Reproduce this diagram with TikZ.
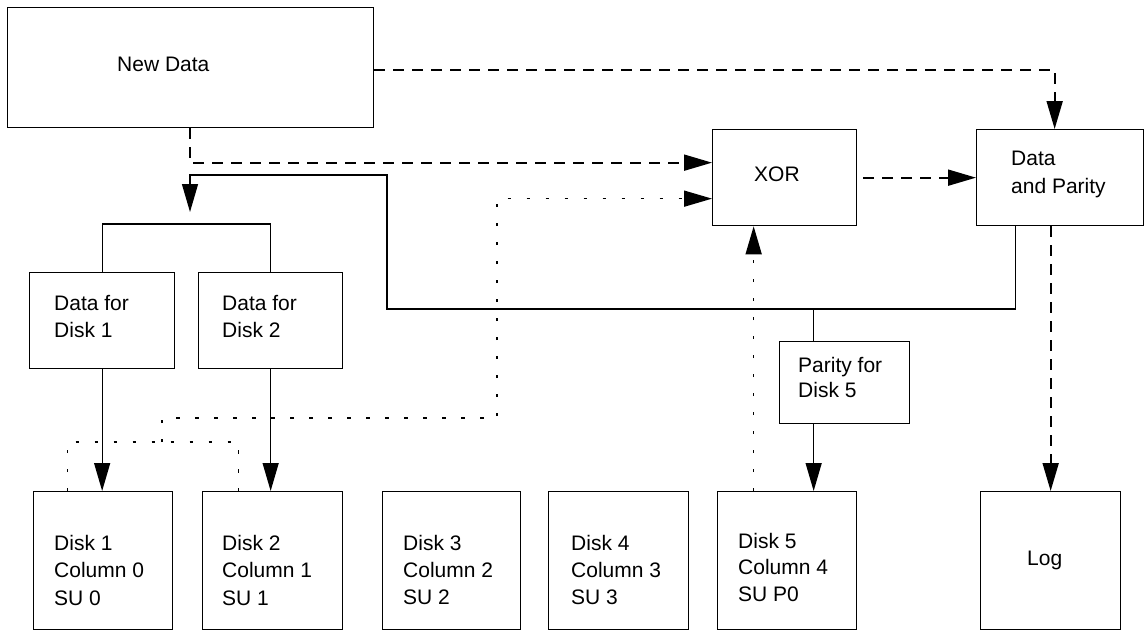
\documentclass[tikz,border=0pt]{standalone}
\usepackage{fontspec}
\setmainfont{Liberation Sans}
\usetikzlibrary{arrows.meta}
\newcommand{\txtlines}[2]{\vtop{\baselineskip=#1\lineskiplimit=-20pt\halign{##\hfil\cr #2\crcr}}}
\begin{document}
\begin{tikzpicture}[x=1pt,y=-1pt,
  box/.style={draw,line width=1.3pt,inner sep=0pt,anchor=north west},
  txt/.style={inner sep=0pt,anchor=base west,font=\fontsize{21pt}{27pt}\selectfont},
  ln/.style={line width=1.3pt},
  dsh/.style={line width=1.9pt,dash pattern=on 11pt off 8pt},
  dot/.style={line width=1.6pt,dash pattern=on 3.5pt off 15.5pt},
  tipa/.style={-{Triangle[length=28pt,width=16pt]}}]
\useasboundingbox (0,0) rectangle (1144,630);
% boxes
\node[box,minimum width=366pt,minimum height=120pt] (nd) at (7,7) {};
\node[box,minimum width=144pt,minimum height=96pt] (xor) at (712,129) {};
\node[box,minimum width=167pt,minimum height=96pt] (dp) at (976,129) {};
\node[box,minimum width=145pt,minimum height=96pt] (dfd1) at (29,272) {};
\node[box,minimum width=144pt,minimum height=96pt] (dfd2) at (198,272) {};
\node[box,minimum width=130pt,minimum height=82pt] (par) at (779,341) {};
\node[box,minimum width=139pt,minimum height=138pt] (d1) at (33,491) {};
\node[box,minimum width=140pt,minimum height=138pt] (d2) at (202,491) {};
\node[box,minimum width=138pt,minimum height=138pt] (d3) at (382,491) {};
\node[box,minimum width=140pt,minimum height=138pt] (d4) at (548,491) {};
\node[box,minimum width=139pt,minimum height=138pt] (d5) at (717,491) {};
\node[box,minimum width=140pt,minimum height=138pt] (log) at (980,491) {};
% texts
\node[txt] (ndt) at (117,71) {New Data};
\node[txt] (xort) at (754,181) {XOR};
\node[txt] (dpt) at (1011,165) {\txtlines{28pt}{Data\cr and Parity}};
\node[txt] (dfd1t) at (54,310) {\txtlines{27pt}{Data for\cr Disk 1}};
\node[txt] (dfd2t) at (222,310) {\txtlines{27pt}{Data for\cr Disk 2}};
\node[txt] (part) at (798,372) {\txtlines{25pt}{Parity for\cr Disk 5}};
\node[txt] (d1t) at (54,550) {\txtlines{27.5pt}{Disk 1\cr Column 0\cr SU 0}};
\node[txt] (d2t) at (222,550) {\txtlines{27.5pt}{Disk 2\cr Column 1\cr SU 1}};
\node[txt] (d3t) at (403,550) {\txtlines{27pt}{Disk 3\cr Column 2\cr SU 2}};
\node[txt] (d4t) at (571,550) {\txtlines{27pt}{Disk 4\cr Column 3\cr SU 3}};
\node[txt] (d5t) at (738,548) {\txtlines{26.5pt}{Disk 5\cr Column 4\cr SU P0}};
\node[txt] (logt) at (1027,565) {Log};
% coordinates
\coordinate (hub) at (387,309);
\coordinate (top) at (190,175);
\coordinate (tip) at (190,212);
\coordinate (fork) at (190,224);
\coordinate (qa) at (162,442);
\coordinate (qb) at (497,418);
% dashed connectors
\draw[dsh,tipa] ([yshift=-2pt]nd.east) -| ([xshift=-5.5pt]dp.north);
\draw[dsh,tipa] ([xshift=-1pt]nd.south) |- ([yshift=15pt]xor.west);
\draw[dsh,tipa] ([xshift=6pt]xor.east) -- (dp.west);
\draw[dsh,tipa] (dp.south -| log.north) -- (log.north);
% solid connectors
\draw[ln,tipa] ([xshift=-44.5pt]dp.south) |- (hub) |- (top) -- (tip);
\draw[ln] (dfd1.north) |- (fork) -| (dfd2.north);
\draw[ln] ([xshift=-31pt]par.north |- hub) -- ([xshift=-31pt]par.north);
\draw[ln,tipa] ([xshift=-31pt]par.south) -- ([xshift=-31pt]par.south |- d5.north);
\draw[ln,tipa] (dfd1.south) -- (dfd1.south |- d1.north);
\draw[ln,tipa] (dfd2.south) -- (dfd2.south |- d2.north);
% dotted connectors
\draw[dot] ([xshift=-35.5pt]d1.north) |- (qa) -| ([xshift=-34pt]d2.north);
\draw[dot,tipa] (qa) |- (qb) |- ([yshift=-21pt]xor.west);
\draw[dot,tipa] ([xshift=-33.5pt]d5.north) -- ([xshift=-33.5pt]d5.north |- xor.south);
\end{tikzpicture}
\end{document}
